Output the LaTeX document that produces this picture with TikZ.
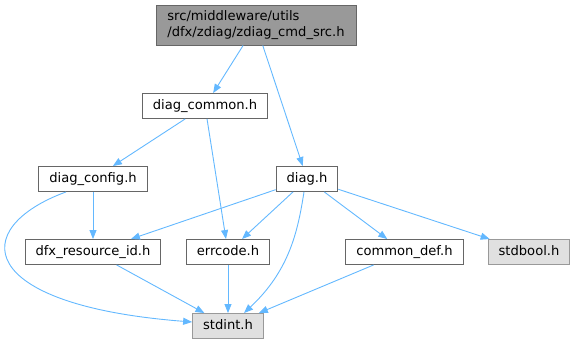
\documentclass[tikz,border=0pt]{standalone}
\usepackage{fontspec}
\setmainfont{DejaVu Sans}
\usetikzlibrary{arrows.meta}
\definecolor{edgeblue}{HTML}{63B8FF}
\begin{document}
\begin{tikzpicture}[x=1pt,y=-1pt,line width=0.9pt,
  hdr/.style={draw=black!60,fill=white,inner xsep=10.5pt,inner ysep=0pt,
    minimum height=25pt,text height=10pt,text depth=3pt,
    font=\fontsize{13.1}{15.5}\selectfont},
  syshdr/.style={hdr,draw=black!40,fill=black!12},
  tophdr/.style={hdr,fill=black!40,align=left,text height=,text depth=,
    minimum width=200pt,minimum height=40pt},
  incl/.style={draw=edgeblue,-{Triangle[length=9pt,width=7pt]}}]
 \useasboundingbox (0,0) rectangle (574,344);
 \node[tophdr] (src) at (256,25) {src/middleware/utils\\/dfx/zdiag/zdiag\_cmd\_src.h};
 \node[hdr] (common) at (205,106) {diag\_common.h};
 \node[hdr] (config) at (93,179) {diag\_config.h};
 \node[hdr] (diag) at (307,179) {diag.h};
 \node[hdr] (resid) at (93,252) {dfx\_resource\_id.h};
 \node[hdr] (errcode) at (228,252) {errcode.h};
 \node[hdr] (commondef) at (404.5,252) {common\_def.h};
 \node[syshdr] (stdbool) at (529,252) {stdbool.h};
 \node[syshdr] (stdint) at (228,326) {stdint.h};
 \draw[incl] (src) -- (common);
 \draw[incl] (src) -- (diag);
 \draw[incl] (common) -- (config);
 \draw[incl] (common) -- (errcode);
 \draw[incl] (config) -- (resid);
 \draw[incl] ([xshift=-27pt]config.south) .. controls (-32,228) and (-26,305) .. ([yshift=4pt]stdint.west);
 \draw[incl] (diag) -- (resid);
 \draw[incl] (diag) -- (errcode);
 \draw[incl] ([xshift=-3pt]diag.south) .. controls (298,230) and (290,270) .. ([xshift=16pt]stdint.north);
 \draw[incl] (diag) -- (commondef);
 \draw[incl] (diag) -- (stdbool);
 \draw[incl] (resid) -- (stdint);
 \draw[incl] (errcode) -- (stdint);
 \draw[incl] (commondef) -- (stdint);
\end{tikzpicture}
\end{document}
